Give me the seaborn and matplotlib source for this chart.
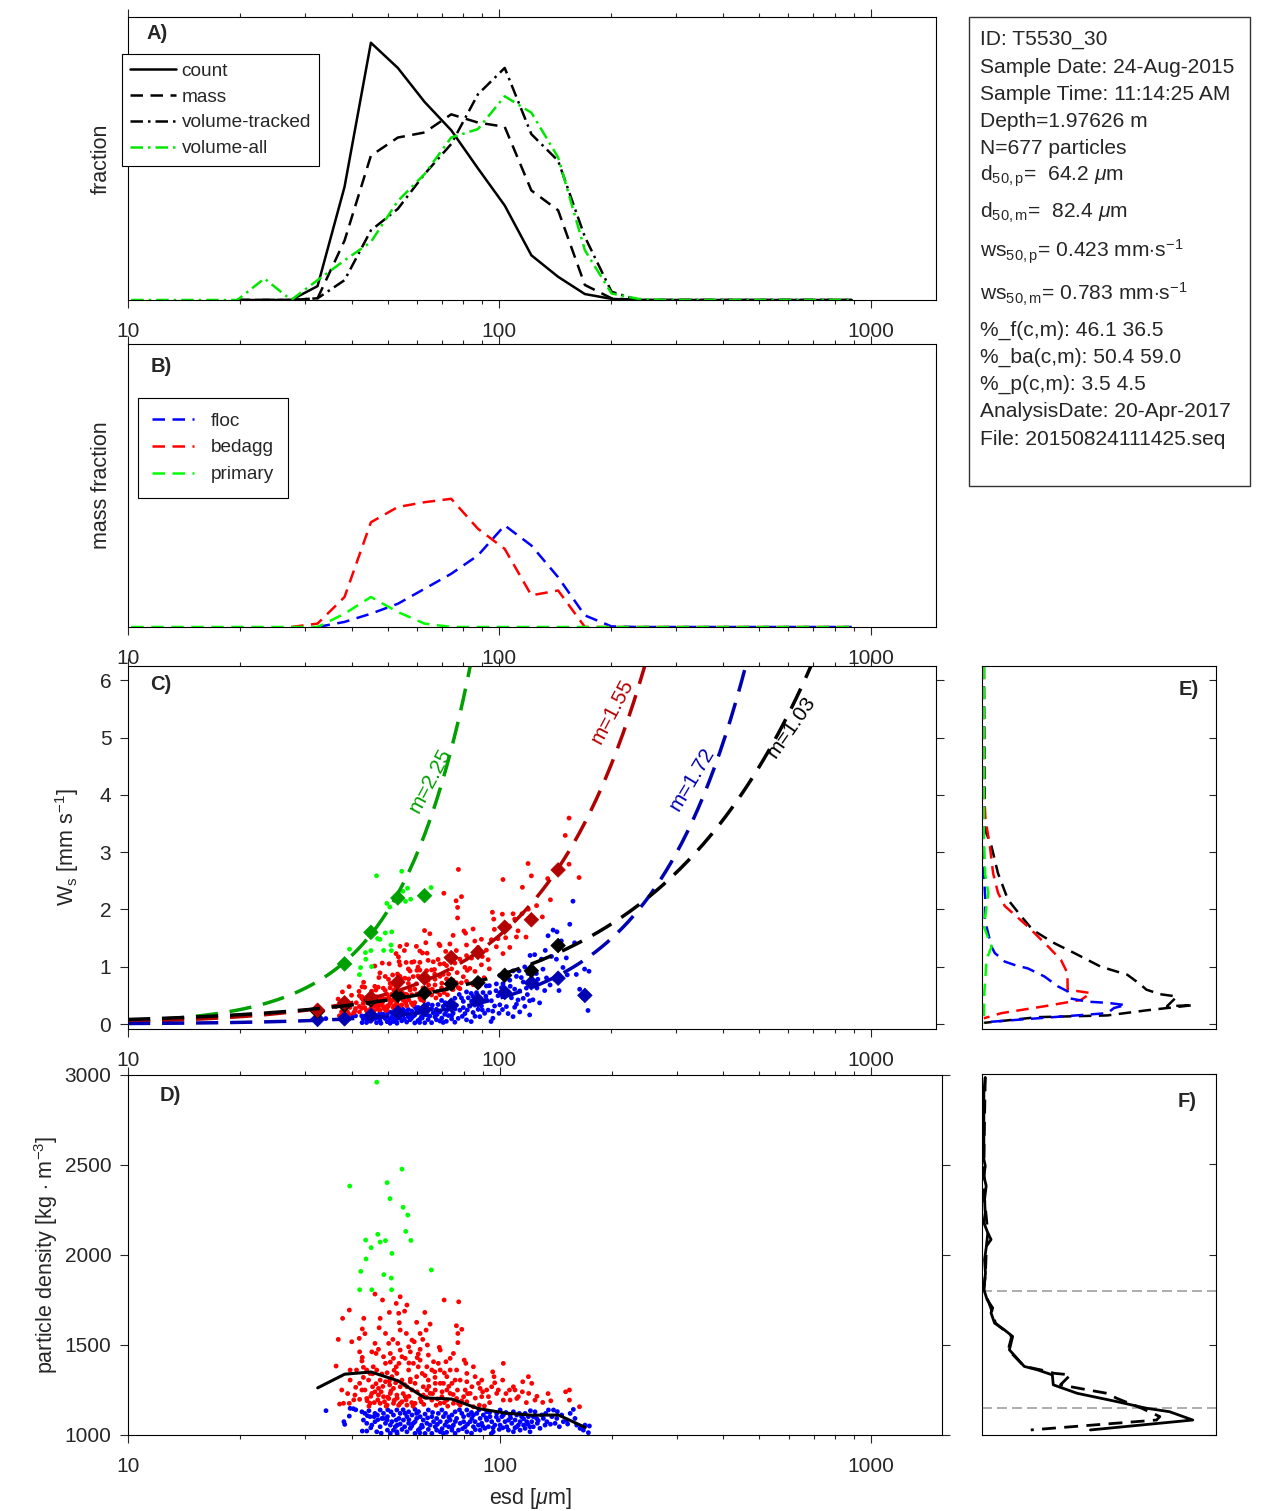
import numpy as np
import pandas as pd
import matplotlib
matplotlib.use("Agg")
import matplotlib.pyplot as plt
import matplotlib.ticker as mticker
from matplotlib.patches import Rectangle
import seaborn as sns

sns.set_style("white")
plt.rcParams["font.family"] = ["Liberation Sans", "DejaVu Sans"]
plt.rcParams["mathtext.fontset"] = "custom"
plt.rcParams["mathtext.rm"] = "Liberation Sans"
plt.rcParams["mathtext.it"] = "Liberation Sans:italic"
plt.rcParams["mathtext.bf"] = "Liberation Sans:bold"

# ---- size distributions (panels A, B) ----
size_bins = [10.2, 12.0, 14.2, 16.7, 19.7, 23.3, 27.5, 32.4, 38.3, 45.1, 53.3, 62.9, 74.2, 87.6,
             103.4, 122.0, 144.0, 170.0, 200.6, 236.7, 279.3, 329.6, 388.9, 458.9, 541.5, 639.0,
             754.0, 889.7]
nan = np.nan
count_frac = [nan, nan, nan, nan, 0, 0, 0, 0.049, 0.40, 0.909, 0.82, 0.70, 0.60, 0.465, 0.334,
              0.158, 0.082, 0.021, 0.004, 0, 0, 0, 0, 0, 0, 0, 0, 0]
mass_frac = [nan, nan, nan, nan, 0, 0, 0, 0.006, 0.21, 0.51, 0.574, 0.592, 0.656, 0.627, 0.612,
             0.387, 0.317, 0.053, 0.006, 0, 0, 0, 0, 0, 0, 0, 0, 0]
voltrk_frac = [nan, nan, nan, nan, 0, 0, 0, 0.006, 0.07, 0.246, 0.322, 0.445, 0.551, 0.727, 0.82,
               0.586, 0.492, 0.223, 0.029, 0, 0, 0, 0, 0, 0, 0, 0, 0]
volall_frac = [0, 0, 0, 0, 0, 0.076, 0, 0.07, 0.14, 0.205, 0.35, 0.445, 0.574, 0.604, 0.72,
               0.662, 0.504, 0.176, 0.023, 0.004, 0, 0, 0, 0, 0, 0, 0, 0]

floc_mass = [nan, nan, nan, nan, nan, nan, nan, 0, 0.018, 0.047, 0.082, 0.135, 0.188, 0.253, 0.359,
             0.288, 0.176, 0.041, 0.002, 0, 0, 0, 0, 0, 0, 0, 0, 0]
bedagg_mass = [nan, nan, nan, nan, nan, nan, 0, 0.012, 0.106, 0.37, 0.424, 0.441, 0.453, 0.347,
               0.276, 0.112, 0.129, 0, 0, 0, 0, 0, 0, 0, 0, 0, 0, 0]
primary_mass = [0, 0, 0, 0, 0, 0, 0, 0, 0.047, 0.106, 0.053, 0.012, 0, 0, 0, 0, 0, 0, 0, 0, 0, 0,
                0, 0, 0, 0, 0, 0]

# ---- individual particles (esd [um], density [kg m-3]) ----
floc_pts = [
    (34.1, 1135), (39.6, 1148), (40.4, 1146), (39.4, 1105), (38.1, 1074), (38.3, 1059), (42.6, 1129),
    (43.4, 1120), (44.1, 1107), (44.8, 1102), (43.0, 1083), (43.9, 1065), (45.3, 1055), (46.2, 1074),
    (42.7, 1022), (43.9, 1022), (47.7, 1139), (48.7, 1120), (48.2, 1092), (49.9, 1102), (51.0, 1129),
    (51.8, 1111), (52.9, 1139), (54.0, 1120), (53.6, 1092), (51.3, 1074), (49.3, 1065), (47.7, 1046),
    (49.9, 1027), (50.8, 1009), (52.4, 1046), (54.0, 1061), (55.1, 1083), (56.3, 1102), (56.9, 1129),
    (58.1, 1111), (59.2, 1142), (59.8, 1092), (58.6, 1065), (57.5, 1037), (56.3, 1018), (60.4, 1027),
    (61.7, 1055), (62.3, 1083), (63.0, 1116), (64.3, 1139), (65.7, 1102), (66.4, 1074), (67.1, 1046),
    (64.3, 1031), (65.7, 1009), (68.4, 1120), (69.9, 1139), (70.6, 1102), (72.1, 1074), (72.9, 1046),
    (69.2, 1018), (74.4, 1111), (75.9, 1129), (76.6, 1092), (78.3, 1065), (77.5, 1027), (80.0, 1102),
    (81.6, 1139), (82.5, 1111), (83.3, 1074), (85.0, 1046), (81.6, 1018), (86.8, 1120), (88.6, 1092),
    (89.5, 1065), (91.3, 1037), (92.3, 1129), (94.2, 1102), (95.2, 1074), (97.1, 1055), (98.2, 1120),
    (100.3, 1139), (101.4, 1102), (103.4, 1074), (104.5, 1046), (106.7, 1111), (108.9, 1129),
    (110.0, 1083), (112.3, 1055), (113.5, 1027), (114.6, 1102), (117.1, 1120), (118.3, 1074),
    (120.7, 1046), (123.2, 1102), (124.5, 1129), (126.3, 1065), (128.4, 1037), (131.1, 1092),
    (135.3, 1139), (139.6, 1139), (141.0, 1065), (144.8, 1046), (151.5, 1083), (152.4, 1061),
    (157.9, 1142), (161.2, 1055), (164.6, 1037), (169.7, 1055), (173.3, 1013), (174.4, 1050),
    (120.7, 1018), (108.9, 1018), (96.1, 1018), (88.6, 1027), (75.9, 1009), (70.6, 1009), (63.0, 1009),
    (59.2, 1009), (52.9, 1018), (46.7, 1018), (45.9, 1102), (46.9, 1111), (49.8, 1083), (52.7, 1083),
    (55.5, 1046), (59.2, 1074), (61.1, 1102), (63.7, 1065), (67.7, 1092), (71.3, 1055), (73.6, 1083),
    (79.1, 1120), (84.2, 1092), (85.9, 1074), (90.4, 1111), (99.2, 1083), (102.3, 1111), (105.6, 1083),
    (111.2, 1111), (116.0, 1055), (122.0, 1074), (129.8, 1111), (134.0, 1074), (138.2, 1102),
    (146.9, 1111), (154.8, 1120), (46.2, 1120), (50.8, 1055), (54.6, 1031), (56.9, 1065), (59.8, 1120),
    (65.0, 1055), (69.2, 1074), (75.1, 1055), (80.8, 1046), (87.7, 1055), (93.3, 1046), (99.8, 1031),
    (107.8, 1065), (113.5, 1074), (119.5, 1102), (125.8, 1092), (48.7, 1092), (51.8, 1027),
    (55.7, 1120), (61.1, 1037), (67.7, 1027), (74.4, 1027), (80.0, 1074), (85.0, 1111), (92.3, 1083),
    (100.3, 1055), (105.6, 1027), (111.2, 1046), (117.1, 1037), (123.2, 1046), (132.5, 1055),
    (142.5, 1092), (148.4, 1074), (159.5, 1092), (168.0, 1027),
    (41.0, 1140), (44.5, 1135), (47.0, 1085), (50.0, 1140), (53.0, 1055), (55.0, 1140), (57.0, 1085),
    (58.0, 1050), (60.5, 1130), (62.0, 1045), (64.0, 1095), (66.0, 1125), (68.0, 1060), (70.0, 1035),
    (71.5, 1120), (73.0, 1100), (74.5, 1045), (76.0, 1075), (78.0, 1140), (79.5, 1035), (82.0, 1060),
    (84.0, 1125), (86.0, 1030), (88.0, 1140), (90.0, 1050), (92.0, 1095), (94.0, 1125), (96.0, 1040),
    (98.0, 1100), (102.0, 1040), (104.0, 1125), (107.0, 1095), (110.0, 1040), (113.0, 1120),
    (116.0, 1090), (119.0, 1060), (121.0, 1135), (127.0, 1080), (133.0, 1120), (137.0, 1060),
    (143.0, 1130), (45.0, 1040), (48.0, 1010), (53.0, 1008), (61.0, 1012), (72.0, 1015), (84.0, 1010),
    (95.0, 1008),
]
bedagg_pts = [
    (39.4, 1694), (37.8, 1648), (36.8, 1531), (40.0, 1518), (41.9, 1537), (42.7, 1589), (43.1, 1648),
    (43.4, 1563), (47.7, 1648), (47.4, 1596), (46.2, 1783), (48.4, 1750), (50.5, 1681), (53.5, 1676),
    (54.0, 1768), (52.7, 1731), (56.3, 1722), (55.5, 1688), (53.7, 1624), (54.0, 1583), (56.1, 1564),
    (49.3, 1564), (51.6, 1531), (50.3, 1509), (53.2, 1509), (58.1, 1527), (58.9, 1518), (61.1, 1564),
    (59.8, 1626), (62.9, 1681), (65.0, 1616), (63.4, 1583), (62.1, 1531), (63.9, 1500), (61.1, 1476),
    (60.4, 1450), (56.9, 1490), (57.5, 1462), (54.6, 1435), (51.8, 1426), (50.8, 1405), (52.7, 1379),
    (53.6, 1398), (49.3, 1398), (47.2, 1476), (46.2, 1509), (45.3, 1462), (46.5, 1453), (42.0, 1462),
    (42.7, 1431), (42.6, 1411), (43.0, 1376), (41.2, 1361), (39.6, 1361), (36.3, 1383), (37.6, 1250),
    (39.6, 1305), (42.0, 1287), (44.4, 1305), (45.5, 1268), (46.2, 1240), (43.9, 1203), (44.8, 1176),
    (42.0, 1198), (38.0, 1176), (37.1, 1172), (39.4, 1176), (47.7, 1305), (49.3, 1296), (50.6, 1278),
    (51.8, 1259), (50.3, 1203), (52.1, 1194), (54.0, 1176), (55.7, 1213), (57.5, 1296), (59.8, 1324),
    (60.4, 1379), (61.9, 1342), (64.3, 1305), (65.7, 1361), (66.9, 1351), (68.4, 1398), (71.7, 1407),
    (73.6, 1426), (75.1, 1453), (69.2, 1472), (68.8, 1487), (70.9, 1750), (77.6, 1740), (76.5, 1607),
    (79.1, 1587), (77.2, 1564), (77.2, 1513), (80.3, 1416), (81.1, 1398), (76.6, 1361), (78.3, 1305),
    (81.6, 1296), (80.8, 1250), (84.2, 1268), (87.7, 1287), (88.6, 1259), (83.3, 1231), (80.0, 1213),
    (76.6, 1203), (73.6, 1231), (72.1, 1250), (69.9, 1213), (67.1, 1250), (65.0, 1231), (63.7, 1250),
    (62.3, 1222), (69.2, 1287), (67.1, 1287), (89.5, 1305), (95.8, 1351), (96.6, 1324), (102.3, 1398),
    (101.9, 1305), (99.2, 1250), (98.2, 1231), (93.3, 1213), (91.0, 1161), (88.2, 1166), (85.0, 1157),
    (106.3, 1250), (108.9, 1268), (112.3, 1213), (115.4, 1296), (119.5, 1324), (122.0, 1287),
    (119.7, 1231), (115.1, 1240), (111.2, 1203), (124.5, 1194), (130.6, 1181), (137.3, 1190),
    (150.5, 1240), (154.1, 1250), (154.1, 1194), (164.0, 1157), (106.7, 1194), (102.3, 1194),
    (43.9, 1361), (44.8, 1342), (46.7, 1361), (48.2, 1339), (49.8, 1346), (51.3, 1324), (52.9, 1342),
    (54.6, 1305), (56.3, 1268), (58.1, 1250), (45.3, 1231), (47.2, 1222), (48.7, 1213), (50.8, 1231),
    (52.9, 1222), (54.6, 1185), (43.4, 1250), (42.6, 1250), (40.8, 1222), (47.7, 1176), (49.8, 1166),
    (51.8, 1176), (56.3, 1166), (59.2, 1176), (61.1, 1203), (59.2, 1287), (54.0, 1268), (47.2, 1259),
    (45.7, 1379), (48.7, 1435), (50.8, 1453), (55.7, 1426), (58.6, 1398), (56.9, 1361), (54.0, 1472),
    (61.1, 1416), (64.3, 1444), (66.4, 1407), (69.2, 1361), (72.1, 1324), (74.4, 1287), (75.9, 1305),
    (70.6, 1287), (81.6, 1342), (85.0, 1379), (85.9, 1324), (73.6, 1361), (63.7, 1379), (62.3, 1268),
    (65.7, 1194), (69.2, 1176), (72.1, 1194), (75.1, 1176), (78.3, 1166), (81.6, 1185), (95.2, 1268),
    (92.3, 1250), (89.5, 1213),
    (44.0, 1190), (45.0, 1215), (46.0, 1180), (47.0, 1195), (48.0, 1240), (49.0, 1185), (50.0, 1210),
    (51.0, 1245), (52.0, 1190), (53.0, 1205), (55.0, 1230), (56.0, 1195), (57.0, 1215), (58.0, 1180),
    (46.5, 1285), (48.5, 1270), (50.5, 1300), (52.5, 1290), (55.5, 1280), (57.5, 1310), (60.0, 1240),
    (61.5, 1185), (63.5, 1210), (64.5, 1270), (66.0, 1230), (68.0, 1200), (70.0, 1240), (71.0, 1180),
    (73.0, 1270), (75.0, 1225), (77.0, 1250), (79.0, 1190), (82.0, 1230), (86.0, 1205), (90.0, 1240),
    (94.0, 1180), (97.0, 1290), (104.0, 1230), (110.0, 1250), (118.0, 1180), (126.0, 1215),
    (135.0, 1230), (41.0, 1265), (39.0, 1230), (40.5, 1195), (43.0, 1320), (45.5, 1340), (52.0, 1360),
    (57.0, 1400), (60.0, 1430), (63.0, 1330), (67.0, 1320), (71.0, 1345), (44.5, 1160), (49.5, 1160),
    (53.5, 1165), (58.5, 1160), (62.5, 1170), (67.5, 1165), (72.5, 1160), (77.5, 1175),
]
primary_pts = [
    (46.7, 2960), (54.6, 2477), (39.5, 2383), (49.8, 2402), (50.7, 2313), (55.0, 2265), (56.6, 2222),
    (55.9, 2131), (57.7, 2081), (43.6, 2083), (47.0, 2115), (47.7, 2072), (49.3, 2080), (45.1, 2041),
    (51.3, 2009), (43.7, 1978), (65.5, 1917), (42.3, 1909), (48.8, 1891), (51.1, 1872), (42.0, 1807),
    (45.3, 1807), (51.2, 1807),
]
RHO_FLOC_MAX = 1150
RHO_PRIMARY_MIN = 1800
RHO_WATER = 1000.0
G = 9.81
MU = 0.9e-3

# ---- binned settling velocities (panel C diamonds) and power-law fits ----
ws_bins = [32.4, 38.3, 45.1, 53.3, 62.9, 74.2, 87.6, 103.4, 122.0, 144.0, 170.0]
ws_mean_floc = [0.08, 0.09, 0.15, 0.20, 0.25, 0.33, 0.42, 0.55, 0.72, 0.80, 0.50]
ws_mean_bedagg = [0.24, 0.37, 0.46, 0.73, 0.80, 1.16, 1.25, 1.69, 1.82, 2.69, nan]
ws_mean_all = [0.22, 0.33, 0.42, 0.50, 0.54, 0.70, 0.72, 0.85, 0.93, 1.37, nan]
ws_mean_primary = [nan, 1.05, 1.60, 2.20, 2.24, nan, nan, nan, nan, nan, nan]

fit_names = ["primary", "bedagg", "floc", "all"]
fit_m = [2.25, 1.55, 1.72, 1.03]
fit_a = [2.965e-4, 1.227e-3, 1.639e-4, 7.436e-3]
fit_colors = ["#00a000", "#b30000", "#0000b3", "black"]
fit_label_pos = [(65.0, 4.25, 62), (202, 5.45, 62), (330, 4.28, 59), (612, 5.19, 55)]

# ---- black line in D: bin-mean density ----
rho_mean = [1262, 1338, 1350, 1301, 1206, 1200, 1147, 1122, 1110, 1111, 1042]

# ---- panel E: settling velocity distributions (ws, relative fraction) ----
E_all_ws = [6.24, 3.45, 3.33, 3.10, 2.63, 2.17, 1.88, 1.64, 1.41, 1.24, 1.00, 0.86, 0.69, 0.60,
            0.52, 0.48, 0.31, 0.33, 0.24, 0.15, 0.12, 0.02]
E_all_x = [0.0, 0.004, 0.011, 0.033, 0.061, 0.104, 0.161, 0.211, 0.304, 0.389, 0.504, 0.618, 0.675,
           0.700, 0.760, 0.832, 0.789, 0.903, 0.703, 0.532, 0.232, 0.0]
E_bedagg_ws = [6.24, 4.03, 3.57, 3.10, 2.63, 2.29, 2.06, 1.70, 1.36, 1.12, 0.89, 0.60, 0.54, 0.42,
               0.31, 0.19, 0.10]
E_bedagg_x = [0.0, 0.001, 0.007, 0.026, 0.040, 0.061, 0.090, 0.190, 0.275, 0.332, 0.360, 0.361,
              0.461, 0.418, 0.261, 0.076, 0.0]
E_floc_ws = [6.24, 2.60, 2.20, 1.82, 1.35, 1.24, 1.09, 1.03, 0.97, 0.83, 0.66, 0.57, 0.45, 0.39,
             0.37, 0.33, 0.28, 0.19, 0.13, 0.03]
E_floc_x = [0.0, 0.0, 0.006, 0.004, 0.033, 0.047, 0.090, 0.133, 0.190, 0.261, 0.318, 0.361, 0.368,
            0.446, 0.532, 0.611, 0.561, 0.532, 0.332, 0.0]
E_primary_ws = [6.24, 3.20, 2.60, 2.29, 1.70, 1.35, 1.12, 0.90, 0.54, 0.10, 0.0]
E_primary_x = [0.0, 0.0, 0.006, 0.019, 0.0, 0.033, 0.011, 0.008, 0.002, 0.0, 0.0]

# ---- panel F: density distributions ----
F_solid_rho = [2981, 2898, 2528, 2491, 2435, 2380, 2306, 2231, 2176, 2120, 2083, 2046, 1972, 1898,
               1806, 1750, 1704, 1676, 1620, 1583, 1546, 1472, 1380, 1361, 1333, 1278, 1231, 1185,
               1148, 1129, 1083, 1028]
F_solid_x = [0.006, 0.0, 0.0, 0.006, 0.0, 0.010, 0.003, 0.006, 0.0, 0.017, 0.031, 0.011, 0.003,
             0.007, 0.0, 0.014, 0.038, 0.031, 0.046, 0.088, 0.124, 0.110, 0.174, 0.231, 0.295, 0.299,
             0.402, 0.573, 0.701, 0.800, 0.900, 0.459]
F_dash_rho = [2981, 2528, 2306, 2120, 2046, 1898, 1806, 1704, 1620, 1546, 1472, 1380, 1361, 1342,
              1333, 1278, 1254, 1231, 1203, 1148, 1102, 1083, 1028]
F_dash_x = [0.006, 0.0, 0.003, 0.017, 0.011, 0.007, 0.0, 0.030, 0.050, 0.120, 0.105, 0.174, 0.245,
            0.302, 0.373, 0.330, 0.430, 0.530, 0.573, 0.680, 0.758, 0.744, 0.202]

info_lines = [
    "ID: T5530_30",
    "Sample Date: 24-Aug-2015",
    "Sample Time: 11:14:25 AM",
    "Depth=1.97626 m",
    "N=677 particles",
    r"d$_\mathregular{50,p}$=  64.2 $\mu$m",
    r"d$_\mathregular{50,m}$=  82.4 $\mu$m",
    r"ws$_\mathregular{50,p}$= 0.423 mm$\cdot$s$^\mathregular{-1}$",
    r"ws$_\mathregular{50,m}$= 0.783 mm$\cdot$s$^\mathregular{-1}$",
    "%_f(c,m): 46.1 36.5",
    "%_ba(c,m): 50.4 59.0",
    "%_p(c,m): 3.5 4.5",
    "AnalysisDate: 20-Apr-2017",
    "File: 20150824111425.seq",
]

# ---------------------------------------------------------------
pt_colors = {"floc": "#0000ff", "bedagg": "#ff0000", "primary": "#00ff00"}
rows = []
for cls, pts in [("floc", floc_pts), ("bedagg", bedagg_pts), ("primary", primary_pts)]:
    for e, r in pts:
        rows.append({"esd": e, "rho": r, "cls": cls})
particles = pd.DataFrame(rows)
# settling velocity from Stokes law, mm/s
particles["ws"] = ((particles["rho"] - RHO_WATER) * G * (particles["esd"] * 1e-6) ** 2
                   / (18 * MU) * 1e3)

W, H = 1270, 1511
fig = plt.figure(figsize=(W / 100, H / 100), dpi=100)


def px_axes(l, t, r, b):
    return fig.add_axes([l / W, 1 - b / H, (r - l) / W, (b - t) / H])


def frame(ax):
    for s in ax.spines.values():
        s.set_visible(True)
        s.set_color("black")
        s.set_linewidth(0.8)


def log_x(ax, xmax):
    ax.set_xscale("log")
    ax.set_xlim(10, xmax)
    ax.set_xticks([10, 100, 1000])
    ax.xaxis.set_major_formatter(mticker.FuncFormatter(lambda v, p: f"{v:g}"))
    ax.xaxis.set_minor_locator(mticker.LogLocator(base=10, subs=np.arange(2, 10)))
    ax.xaxis.set_minor_formatter(mticker.NullFormatter())
    ax.tick_params(axis="x", which="both", direction="out", top=True, bottom=True,
                   labelsize=15, pad=10, width=0.8)
    ax.tick_params(axis="x", which="major", length=6)
    ax.tick_params(axis="x", which="minor", length=3)
    ax.set_xlabel("")


def panel_label(ax, txt, x, y):
    ax.text(x, y, txt, transform=ax.transAxes, fontsize=14.5, fontweight="bold",
            ha="center", va="center")


axA = px_axes(128, 17, 936, 300)
axB = px_axes(128, 344, 936, 627)
axC = px_axes(128, 666, 936, 1029)
axE = px_axes(982, 666, 1216, 1029)
axD = px_axes(128, 1075, 942, 1435)
axF = px_axes(982, 1074, 1216, 1435)

# ---- A ----
ax = axA
ax.plot(size_bins, count_frac, color="black", lw=1.8, label="count")
ax.plot(size_bins, mass_frac, color="black", lw=1.8, ls=(0, (5, 3)), label="mass")
ax.plot(size_bins, voltrk_frac, color="black", lw=1.8, ls=(0, (5, 2, 1, 2)), label="volume-tracked")
ax.plot(size_bins, volall_frac, color="#00e600", lw=1.8, ls=(0, (5, 2, 1, 2)), label="volume-all")
log_x(ax, 1500)
ax.set_ylim(0, 1)
ax.set_yticks([])
frame(ax)
ax.set_ylabel("fraction", fontsize=15.5)
ax.yaxis.set_label_coords(-0.02, 0.5)
leg = ax.legend(loc="upper left", bbox_to_anchor=(-0.008, 0.87), fancybox=False, edgecolor="black",
                framealpha=1, fontsize=13.7, handlelength=2.4, handletextpad=0.3,
                labelspacing=0.45, borderpad=0.45, borderaxespad=0)
leg.get_frame().set_linewidth(0.8)
panel_label(ax, "A)", 0.036, 0.943)

# ---- B ----
ax = axB
ax.plot(size_bins, floc_mass, color="#0000ff", lw=1.8, ls=(0, (5, 3)), label="floc")
ax.plot(size_bins, bedagg_mass, color="#ff0000", lw=1.8, ls=(0, (5, 3)), label="bedagg")
ax.plot(size_bins, primary_mass, color="#00ff00", lw=1.8, ls=(0, (5, 3)), label="primary")
log_x(ax, 1500)
ax.set_ylim(0, 1)
ax.set_yticks([])
frame(ax)
ax.set_ylabel("mass fraction", fontsize=15.5)
ax.yaxis.set_label_coords(-0.02, 0.5)
leg = ax.legend(loc="upper left", bbox_to_anchor=(0.0124, 0.809), fancybox=False, edgecolor="black",
                framealpha=1, fontsize=13.7, handlelength=2.2, handletextpad=0.85,
                labelspacing=0.5, borderpad=0.75, borderaxespad=0)
leg.get_frame().set_linewidth(0.8)
panel_label(ax, "B)", 0.041, 0.922)

# ---- C ----
ax = axC
sns.scatterplot(data=particles, x="esd", y="ws", hue="cls", palette=pt_colors, s=12,
                linewidth=0, legend=False, ax=ax)
d_grid = np.geomspace(10, 1500, 300)
for name, m, a, col in zip(fit_names, fit_m, fit_a, fit_colors):
    ax.plot(d_grid, a * d_grid ** m, color=col, lw=2.5, ls=(0, (6.4, 3.4)))
diamonds = pd.DataFrame({"esd": ws_bins * 4,
                         "ws": ws_mean_floc + ws_mean_all + ws_mean_bedagg + ws_mean_primary,
                         "grp": ["floc"] * 11 + ["all"] * 11 + ["bedagg"] * 11 + ["primary"] * 11})
diamonds = diamonds.dropna()
sns.scatterplot(data=diamonds, x="esd", y="ws", hue="grp", marker="D", s=55, linewidth=0.5,
                palette={"floc": "#0000b3", "all": "black", "bedagg": "#b30000", "primary": "#00a000"},
                edgecolor="face", legend=False, ax=ax)
for (x, y, rot), m, col in zip(fit_label_pos, fit_m, fit_colors):
    ax.text(x, y, f"m={m:.2f}", color=col, fontsize=15, rotation=rot, ha="center", va="center")
log_x(ax, 1500)
ax.set_ylim(-0.087, 6.25)
ax.set_yticks(range(7))
ax.tick_params(axis="y", which="both", direction="out", left=True, right=True, labelsize=15,
               pad=6, length=6, width=0.8)
frame(ax)
ax.set_ylabel(r"W$_\mathregular{s}$ [mm s$^\mathregular{-1}$]", fontsize=15.5)
ax.yaxis.set_label_coords(-0.058, 0.5)
panel_label(ax, "C)", 0.041, 0.95)

# ---- E ----
ax = axE
ax.plot(E_all_x, E_all_ws, color="black", lw=1.8, ls=(0, (5, 3)))
ax.plot(E_bedagg_x, E_bedagg_ws, color="#ff0000", lw=1.8, ls=(0, (5, 3)))
ax.plot(E_floc_x, E_floc_ws, color="#0000ff", lw=1.8, ls=(0, (5, 3)))
ax.plot(E_primary_x, E_primary_ws, color="#00ff00", lw=1.8, ls=(0, (5, 3)))
ax.set_xlim(-0.008, 1)
ax.set_ylim(-0.087, 6.25)
ax.set_yticks(range(7))
ax.set_xticks([])
ax.tick_params(axis="y", which="both", left=False, right=True, direction="in",
               labelleft=False, labelright=False, length=5, width=0.8)
frame(ax)
panel_label(ax, "E)", 0.885, 0.934)

# ---- D ----
ax = axD
sns.scatterplot(data=particles, x="esd", y="rho", hue="cls", palette=pt_colors, s=12,
                linewidth=0, legend=False, ax=ax)
ax.plot(ws_bins, rho_mean, color="black", lw=2.2)
log_x(ax, 1550)
ax.set_ylim(1000, 3000)
ax.set_yticks([1000, 1500, 2000, 2500, 3000])
ax.tick_params(axis="y", which="both", direction="out", left=True, right=True, labelsize=15,
               pad=6, length=6, width=0.8)
frame(ax)
ax.set_ylabel(r"particle density [kg $\cdot$ m$^\mathregular{-3}$]", fontsize=15.5)
ax.yaxis.set_label_coords(-0.084, 0.5)
ax.set_xlabel(r"esd [$\mu$m]", fontsize=15.5)
ax.xaxis.set_label_coords(0.494, -0.142)
panel_label(ax, "D)", 0.052, 0.942)

# ---- F ----
ax = axF
ax.axhline(RHO_PRIMARY_MIN, color="#a0a0a0", lw=1.2, ls=(0, (6, 3)))
ax.axhline(RHO_FLOC_MAX, color="#a0a0a0", lw=1.2, ls=(0, (6, 3)))
ax.plot(F_dash_x, F_dash_rho, color="black", lw=2.0, ls=(0, (5, 3)))
ax.plot(F_solid_x, F_solid_rho, color="black", lw=2.0)
ax.set_xlim(-0.008, 1)
ax.set_ylim(1000, 3000)
ax.set_yticks([1000, 1500, 2000, 2500, 3000])
ax.set_xticks([])
ax.tick_params(axis="y", which="both", left=False, right=True, direction="in",
               labelleft=False, labelright=False, length=5, width=0.8)
frame(ax)
panel_label(ax, "F)", 0.876, 0.925)

# ---- info box ----
fig.patches.append(Rectangle((969 / W, 1 - 486 / H), 281 / W, 469 / H, transform=fig.transFigure,
                             fill=False, edgecolor="#333333", lw=1.0))
info_baselines = [45, 73, 100, 127, 154, 181, 218, 258, 300, 336, 363, 390, 417, 445]
for txt, yb in zip(info_lines, info_baselines):
    fig.text(980 / W, 1 - yb / H, txt, fontsize=15.1, ha="left", va="baseline")

fig.savefig("out.png", dpi=100)
plt.close(fig)
